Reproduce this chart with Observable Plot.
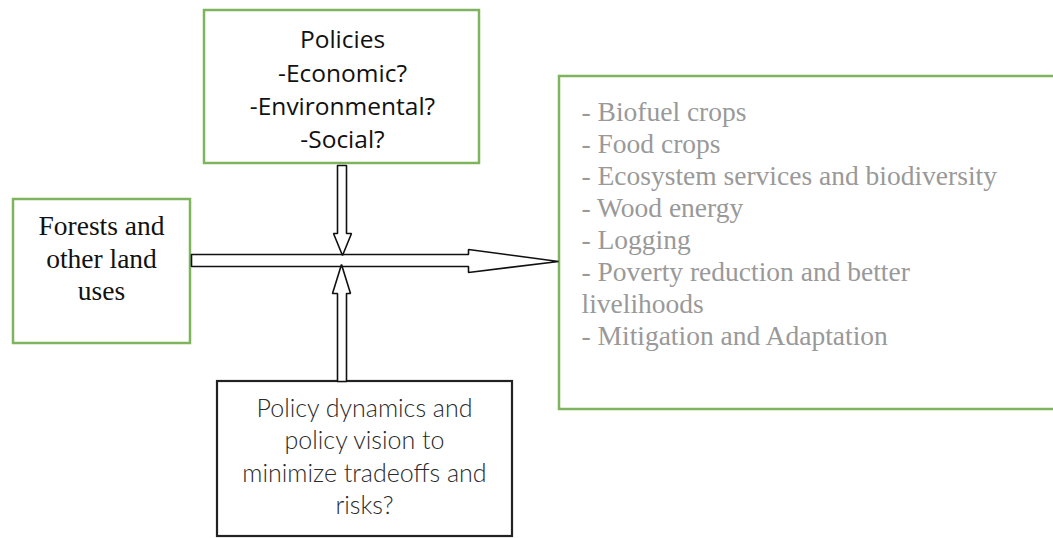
<!DOCTYPE html>
<html>
<head>
<meta charset="utf-8">
<script src="https://cdn.jsdelivr.net/npm/d3@7"></script>
<script src="https://cdn.jsdelivr.net/npm/@observablehq/plot@0.6"></script>
<style>
  html, body { margin: 0; padding: 0; background: #fff; overflow: hidden; }
  #chart svg { display: block; overflow: hidden; }
</style>
</head>
<body>
<div id="chart"></div>
<script>
// ---- Text content (data) ----
const policiesLines = ["Policies", "-Economic?", "-Environmental?", "-Social?"];
const landLines = ["Forests and", "other land", "uses"];
const outcomeLines = [
  "- Biofuel crops",
  "- Food crops",
  "- Ecosystem services and biodiversity",
  "- Wood energy",
  "- Logging",
  "- Poverty reduction and better",
  "livelihoods",
  "- Mitigation and Adaptation"
];
const dynamicsLines = ["Policy dynamics and", "policy vision to", "minimize tradeoffs and", "risks?"];

// ---- Layout (diagram geometry, in pixel units of the 1053x538 canvas) ----
const W = 1053, H = 538;
const boxes = [
  {id: "policies", x1: 204, x2: 479, y1: 10,  y2: 163, stroke: "#7fb45e", sw: 2.5},
  {id: "land",     x1: 13,  x2: 190, y1: 199, y2: 343, stroke: "#7fb45e", sw: 2.5},
  {id: "outcomes", x1: 559, x2: 1070, y1: 76, y2: 409, stroke: "#7fb45e", sw: 2.5},
  {id: "dynamics", x1: 217, x2: 512, y1: 381, y2: 536, stroke: "#222", sw: 2.2}
];
const arrows = [
  {id: "right", pts: [[191,254],[468,254],[468,249],[558,261],[468,272],[468,266],[191,266],[191,254]]},
  {id: "down",  pts: [[337,165],[346,165],[346,233],[351,233],[342,255],[333,233],[337,233],[337,165]]},
  {id: "up",    pts: [[337,381],[346,381],[346,293],[350,293],[341,264],[332,293],[337,293],[337,381]]}
];
const arrowPts = arrows.flatMap(a => a.pts.map(([x, y]) => ({id: a.id, x, y})));

function stack(lines, cx, y0, dy) {
  return lines.map((t, i) => ({t, x: cx, y: y0 + i * dy}));
}
const policiesText = stack(policiesLines, 342, 40, 33.3);
const landText = stack(landLines, 101, 226, 32.5);
const outcomeText = stack(outcomeLines, 581, 112, 32);
const dynamicsText = stack(dynamicsLines, 364, 408, 32.5);

const plot = Plot.plot({
  width: W, height: H,
  margin: 0,
  x: {domain: [0, W], range: [0, W], axis: null},
  y: {domain: [0, H], range: [0, H], axis: null},
  style: {background: "#fff"},
  marks: [
    Plot.rect(boxes, {x1: "x1", x2: "x2", y1: "y1", y2: "y2", fill: "white",
      stroke: d => d.stroke, strokeWidth: d => d.sw}),
    Plot.line(arrowPts, {x: "x", y: "y", z: "id", fill: "white", stroke: "#111",
      strokeWidth: 1.6, strokeLinejoin: "miter", curve: "linear"}),
    Plot.text(policiesText, {x: "x", y: "y", text: "t", fontFamily: "Open Sans",
      fontSize: 24.5, fill: "#111", textAnchor: "middle", lineAnchor: "middle"}),
    Plot.text(landText, {x: "x", y: "y", text: "t", fontFamily: "Liberation Serif",
      fontSize: 27.5, fill: "#111", textAnchor: "middle", lineAnchor: "middle"}),
    Plot.text(outcomeText, {x: "x", y: "y", text: "t", fontFamily: "Liberation Serif",
      fontSize: 27.5, fill: "#999", textAnchor: "start", lineAnchor: "middle"}),
    Plot.text(dynamicsText, {x: "x", y: "y", text: "t", fontFamily: "Lato",
      fontSize: 25, fontWeight: 300, fill: "#2a2a2a", textAnchor: "middle", lineAnchor: "middle"})
  ]
});
document.getElementById("chart").appendChild(plot);
</script>
</body>
</html>
